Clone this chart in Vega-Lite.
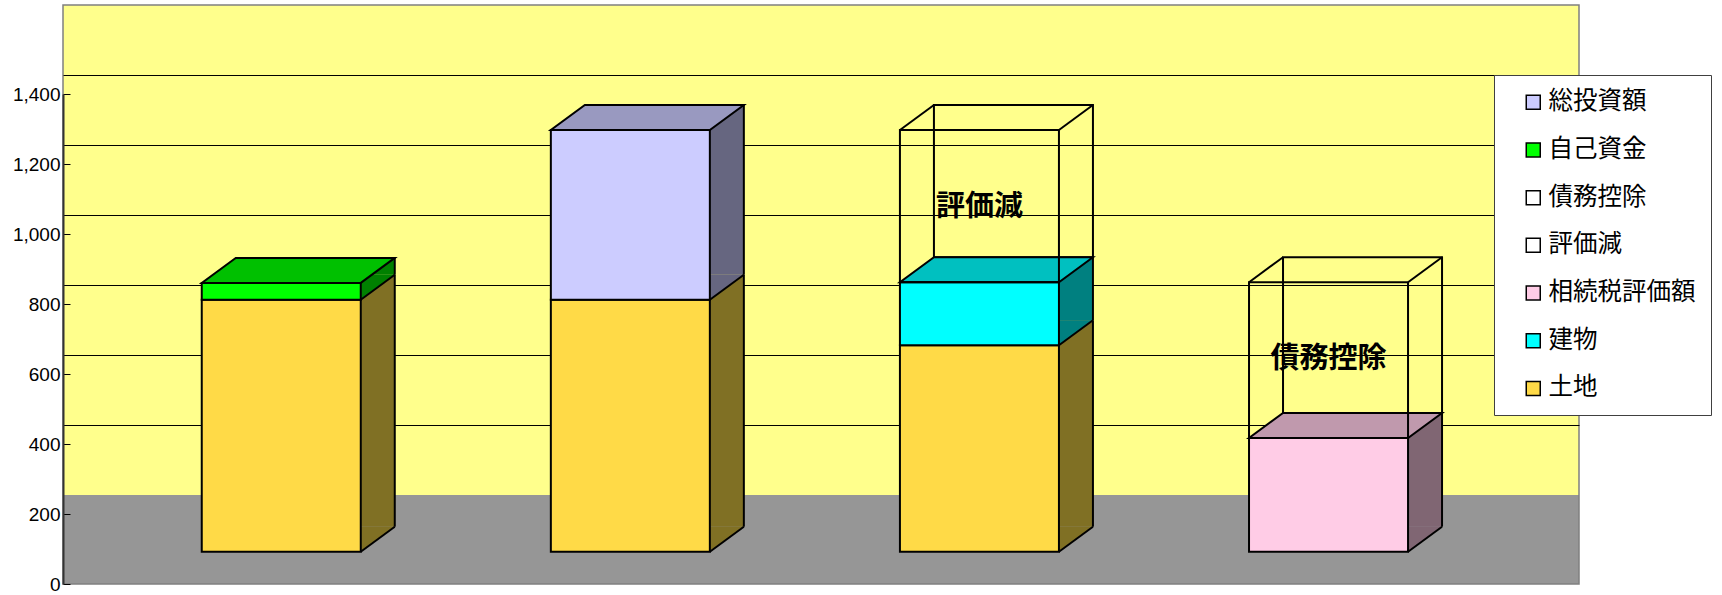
{
  "$schema": "https://vega.github.io/schema/vega-lite/v6.json",
  "width": 1516,
  "height": 579,
  "autosize": {"type": "none"},
  "padding": {"left": 63, "top": 5, "right": 143, "bottom": 11},
  "background": "#FFFFFF",
  "config": {
    "view": {
      "fill": {"gradient": "linear", "x1": 0, "y1": 0, "x2": 0, "y2": 1,
        "stops": [{"offset": 0, "color": "#FFFF8C"}, {"offset": 0.8463, "color": "#FFFF8C"}, {"offset": 0.8463, "color": "#969696"}, {"offset": 1, "color": "#969696"}]},
      "stroke": "#808080", "strokeWidth": 1.5
    },
    "legend": {
      "fillColor": "#FFFFFF", "strokeColor": "#404040", "padding": 15,
      "symbolType": "square", "symbolSize": 196, "symbolStrokeColor": "#000000", "symbolStrokeWidth": 1.5,
      "labelFont": "Noto Sans CJK JP", "labelFontSize": 24.5, "labelColor": "#000000",
      "rowPadding": 22.7, "symbolOffset": 12, "labelOffset": 3
    }
  },
  "data": {"values": [
    {"col": 1, "series": "土地", "value": 720, "order": 1},
    {"col": 1, "series": "自己資金", "value": 48, "order": 2},
    {"col": 2, "series": "土地", "value": 720, "order": 1},
    {"col": 2, "series": "総投資額", "value": 485, "order": 2},
    {"col": 3, "series": "土地", "value": 590, "order": 1},
    {"col": 3, "series": "建物", "value": 180, "order": 2},
    {"col": 3, "series": "評価減", "value": 435, "order": 3},
    {"col": 4, "series": "相続税評価額", "value": 325, "order": 1},
    {"col": 4, "series": "債務控除", "value": 445, "order": 2}
  ]},
  "transform": [
    {"stack": "value", "groupby": ["col"], "sort": [{"field": "order", "order": "ascending"}], "as": ["v0", "v1"]}
  ],
  "encoding": {
    "x": {"field": "col", "type": "ordinal", "axis": null,
      "scale": {"paddingInner": 0.5445, "paddingOuter": 0.4436, "align": 0.448}}
  },
  "layer": [
    {
      "mark": {"type": "point", "opacity": 0},
      "encoding": {
        "y": {"field": "v1", "type": "quantitative",
          "scale": {"domain": [0, 1400], "range": [490, 0], "nice": false},
          "axis": {"orient": "left", "labels": false, "ticks": false, "domain": false, "grid": true,
            "gridColor": "#000000", "gridWidth": 1, "gridOpacity": 1, "values": [200, 400, 600, 800, 1000, 1200], "title": null}}
      }
    },
    {
      "mark": {"type": "point", "opacity": 0},
      "encoding": {
        "y": {"field": "v1", "type": "quantitative",
          "scale": {"domain": [0, 1400], "range": [579, 89], "nice": false},
          "axis": {"orient": "left", "grid": false, "values": [0, 200, 400, 600, 800, 1000, 1200, 1400], "format": ",.0f",
            "labelFont": "Liberation Sans", "labelFontSize": 19, "labelColor": "#000000",
            "domainColor": "#333333", "domainWidth": 2, "tickColor": "#000000", "tickWidth": 1,
            "tickSize": -7, "labelPadding": 10, "title": null}}
      }
    },
    {
      "layer": [
        {
          "transform": [{"filter": {"field": "series", "oneOf": ["評価減", "債務控除"]}}],
          "mark": {"type": "bar", "fill": "transparent", "stroke": "#000000", "strokeWidth": 2, "xOffset": 34, "yOffset": -25, "y2Offset": -25},
          "encoding": {
            "y": {"field": "v1", "type": "quantitative", "scale": {"domain": [0, 1400], "range": [546.7, 56.7], "nice": false}, "axis": null},
            "y2": {"field": "v0"}
          }
        },
        {
          "transform": [{"filter": {"field": "series", "oneOf": ["評価減", "債務控除"]}}],
          "mark": {"type": "rule", "stroke": "#000000", "strokeWidth": 2, "xOffset": -79.5, "x2Offset": -45.5, "y2Offset": -25},
          "encoding": {
            "x2": {"field": "col"},
            "y": {"field": "v1", "type": "quantitative", "scale": {"domain": [0, 1400], "range": [546.7, 56.7], "nice": false}, "axis": null},
            "y2": {"field": "v1"}
          }
        },
        {
          "transform": [{"filter": {"field": "series", "oneOf": ["評価減", "債務控除"]}}],
          "mark": {"type": "rule", "stroke": "#000000", "strokeWidth": 2, "xOffset": 79.5, "x2Offset": 113.5, "y2Offset": -25},
          "encoding": {
            "x2": {"field": "col"},
            "y": {"field": "v1", "type": "quantitative", "scale": {"domain": [0, 1400], "range": [546.7, 56.7], "nice": false}, "axis": null},
            "y2": {"field": "v1"}
          }
        },
        {
          "transform": [{"filter": {"not": {"field": "series", "oneOf": ["評価減", "債務控除"]}}}],
          "mark": {"type": "bar", "width": 34, "xOffset": 96.5, "yOffset": -25, "y2Offset": -25, "strokeWidth": 0},
          "encoding": {
            "y": {"field": "v1", "type": "quantitative", "scale": {"domain": [0, 1400], "range": [546.7, 56.7], "nice": false}, "axis": null},
            "y2": {"field": "v0"},
            "fill": {"condition": [
              {"test": "datum.series === '土地'", "value": "#807024"},
              {"test": "datum.series === '自己資金'", "value": "#008000"},
              {"test": "datum.series === '総投資額'", "value": "#666680"},
              {"test": "datum.series === '建物'", "value": "#008080"},
              {"test": "datum.series === '相続税評価額'", "value": "#806673"}
            ], "value": "#808080"}
          }
        },
        {
          "transform": [{"filter": {"not": {"field": "series", "oneOf": ["評価減", "債務控除"]}}}],
          "mark": {"type": "point", "shape": "M 0.795 -0.25 L 1.135 -0.25 L 0.795 0 Z", "size": 40000, "filled": true, "opacity": 1, "strokeWidth": 0},
          "encoding": {
            "y": {"field": "v0", "type": "quantitative", "scale": {"domain": [0, 1400], "range": [546.7, 56.7], "nice": false}, "axis": null},
            "fill": {"condition": [
              {"test": "datum.series === '土地'", "value": "#807024"},
              {"test": "datum.series === '自己資金'", "value": "#008000"},
              {"test": "datum.series === '総投資額'", "value": "#666680"},
              {"test": "datum.series === '建物'", "value": "#008080"},
              {"test": "datum.series === '相続税評価額'", "value": "#806673"}
            ], "value": "#808080"}
          }
        },
        {
          "transform": [{"filter": {"field": "series", "oneOf": ["自己資金", "総投資額", "建物", "相続税評価額"]}}],
          "mark": {"type": "point", "shape": "M -0.795 0 L 0.795 0 L 1.135 -0.25 L -0.455 -0.25 Z", "size": 40000, "filled": true, "opacity": 1, "stroke": "#000000", "strokeWidth": 2},
          "encoding": {
            "y": {"field": "v1", "type": "quantitative", "scale": {"domain": [0, 1400], "range": [546.7, 56.7], "nice": false}, "axis": null},
            "fill": {"condition": [
              {"test": "datum.series === '自己資金'", "value": "#00C000"},
              {"test": "datum.series === '総投資額'", "value": "#9999C0"},
              {"test": "datum.series === '建物'", "value": "#00C0C0"},
              {"test": "datum.series === '相続税評価額'", "value": "#C099AD"}
            ], "value": "#BFA335"}
          }
        },
        {
          "transform": [{"filter": {"not": {"field": "series", "oneOf": ["評価減", "債務控除"]}}}],
          "mark": {"type": "rule", "stroke": "#000000", "strokeWidth": 2, "xOffset": 79.5, "x2Offset": 113.5, "y2Offset": -25},
          "encoding": {
            "x2": {"field": "col"},
            "y": {"field": "v0", "type": "quantitative", "scale": {"domain": [0, 1400], "range": [546.7, 56.7], "nice": false}, "axis": null},
            "y2": {"field": "v0"}
          }
        },
        {
          "transform": [{"filter": {"not": {"field": "series", "oneOf": ["評価減", "債務控除"]}}}],
          "mark": {"type": "rule", "stroke": "#000000", "strokeWidth": 2, "xOffset": 113.5, "yOffset": -25, "y2Offset": -25},
          "encoding": {
            "y": {"field": "v1", "type": "quantitative", "scale": {"domain": [0, 1400], "range": [546.7, 56.7], "nice": false}, "axis": null},
            "y2": {"field": "v0"}
          }
        },
        {
          "transform": [{"filter": {"not": {"field": "series", "oneOf": ["評価減", "債務控除"]}}}],
          "mark": {"type": "bar", "stroke": "#000000", "strokeWidth": 2, "opacity": 1},
          "encoding": {
            "y": {"field": "v1", "type": "quantitative", "scale": {"domain": [0, 1400], "range": [546.7, 56.7], "nice": false}, "axis": null},
            "y2": {"field": "v0"},
            "color": {"field": "series", "type": "nominal",
              "scale": {"domain": ["総投資額", "自己資金", "債務控除", "評価減", "相続税評価額", "建物", "土地"],
                "range": ["#CCCCFF", "#00FF00", "#FFFFFF", "#FFFFFF", "#FFCCE6", "#00FFFF", "#FFDA47"]},
              "legend": {"title": null, "orient": "none", "legendX": 1431, "legendY": 70}}
          }
        },
        {
          "transform": [{"filter": {"field": "series", "oneOf": ["評価減", "債務控除"]}}],
          "mark": {"type": "bar", "fill": "transparent", "stroke": "#000000", "strokeWidth": 2},
          "encoding": {
            "y": {"field": "v1", "type": "quantitative", "scale": {"domain": [0, 1400], "range": [546.7, 56.7], "nice": false}, "axis": null},
            "y2": {"field": "v0"}
          }
        },
        {
          "transform": [{"filter": {"field": "series", "oneOf": ["評価減", "債務控除"]}}],
          "mark": {"type": "text", "font": "Noto Sans CJK JP", "fontWeight": "bold", "fontSize": 29, "dy": 77, "baseline": "middle", "align": "center", "color": "#000000"},
          "encoding": {
            "y": {"field": "v1", "type": "quantitative", "scale": {"domain": [0, 1400], "range": [546.7, 56.7], "nice": false}, "axis": null},
            "text": {"field": "series"}
          }
        }
      ]
    }
  ],
  "resolve": {"scale": {"y": "independent"}, "axis": {"y": "independent"}}
}
